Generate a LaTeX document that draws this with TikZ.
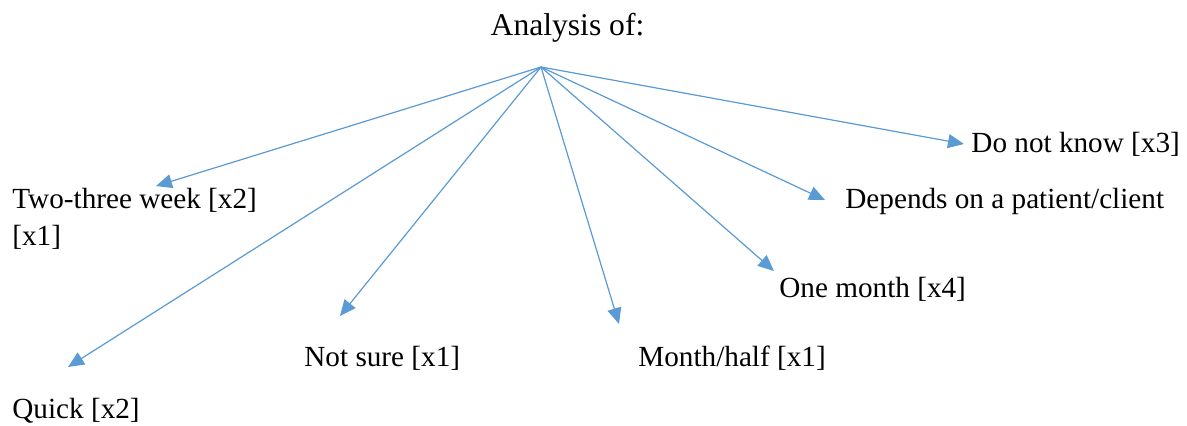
\documentclass[tikz,border=0pt]{standalone}
\usepackage{fontspec}
\setmainfont{Liberation Serif}
\usetikzlibrary{arrows.meta}
\definecolor{arrowblue}{HTML}{5B9BD5}
\begin{document}
\begin{tikzpicture}[x=0.5pt,y=-0.5pt, font=\fontsize{14.6}{18.5}\selectfont, line join=round, >={Triangle[length=8pt,width=7pt]},
  answer/.style={anchor=base west, inner sep=0pt, align=left},
  link/.style={->, draw=arrowblue, fill=arrowblue, line width=0.6pt}]
\useasboundingbox (0,0) rectangle (1187,425);
\node (title) at (567.5,35) [anchor=base, inner sep=0pt, font=\fontsize{15.8}{19}\selectfont] {Analysis of:};
\coordinate (hub) at (541,67);
% answers
\node (twothree) at (12,245) [answer] {Two-three week [x2]\\{}[x1]};
\node (quick) at (12,418) [answer] {Quick [x2]};
\node (notsure) at (304,366) [answer] {Not sure [x1]};
\node (monthhalf) at (638,366) [answer] {Month/half [x1]};
\node (onemonth) at (779,297) [answer] {One month [x4]};
\node (depends) at (845,208) [answer] {Depends on a patient/client};
\node (dontknow) at (971,152) [answer] {Do not know [x3]};
% arrow ends
\coordinate (twothreeend) at (156,186);
\coordinate (quickend) at (68,367);
\coordinate (notsureend) at (340,316);
\coordinate (monthhalfend) at (619,324);
\coordinate (onemonthend) at (774,271);
\coordinate (dependsend) at (825,200);
\coordinate (dontknowend) at (964,144);
\foreach \e in {twothreeend,quickend,notsureend,monthhalfend,onemonthend,dependsend,dontknowend}
  \draw [link] (hub) -- (\e);
\end{tikzpicture}
\end{document}
